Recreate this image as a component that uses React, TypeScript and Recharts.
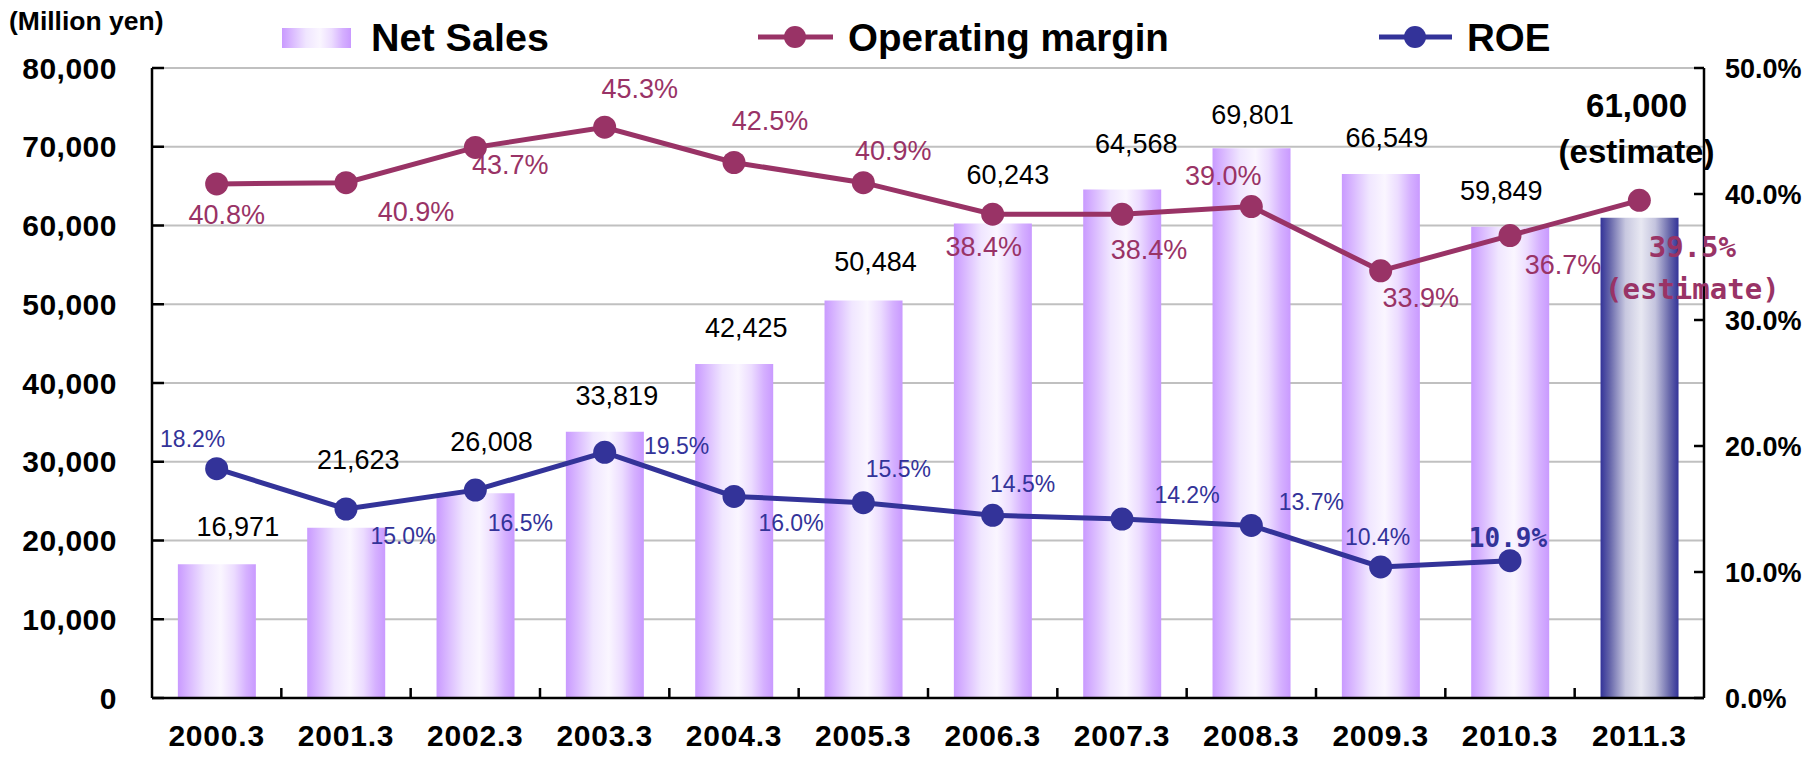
import React from 'react';
import {
  Bar,
  CartesianGrid,
  Cell,
  ComposedChart,
  LabelList,
  Line,
  XAxis,
  YAxis,
} from 'recharts';

const years = ['2000.3', '2001.3', '2002.3', '2003.3', '2004.3', '2005.3', '2006.3', '2007.3', '2008.3', '2009.3', '2010.3', '2011.3'];
const netSales = [16971, 21623, 26008, 33819, 42425, 50484, 60243, 64568, 69801, 66549, 59849, 61000];
const opMargin = [40.8, 40.9, 43.7, 45.3, 42.5, 40.9, 38.4, 38.4, 39.0, 33.9, 36.7, 39.5];
const roe = [18.2, 15.0, 16.5, 19.5, 16.0, 15.5, 14.5, 14.2, 13.7, 10.4, 10.9, null];
const salesTicks = [0, 10000, 20000, 30000, 40000, 50000, 60000, 70000, 80000];
const pctTicks = [0, 10, 20, 30, 40, 50];

const chartData = years.map((year, i) => ({
  year,
  sales: netSales[i],
  margin: opMargin[i],
  roe: roe[i],
}));

// label nudges [dx, dy] from the point (or bar top centre)
const salesNudge = [[21, -37], [12, -68], [16, -51], [12, -36], [12, -36], [12, -38], [15, -49], [14, -46], [1, -33], [6, -36], [-9, -36], [-3, -66]];
const marginNudge = [[10, 31], [70, 29], [35, 18], [35, -38], [36, -42], [30, -32], [-9, 33], [27, 36], [-28, -31], [40, 27], [53, 29], [53, 47]];
const roeNudge = [[-24, -30], [57, 27], [45, 33], [72, -6], [57, 27], [35, -34], [30, -31], [65, -24], [60, -23], [-3, -30], [-2, -23]];

const W = 1807;
const H = 757;
const PLOT_LEFT = 152;
const PLOT_RIGHT = 1704;
const BAND = (PLOT_RIGHT - PLOT_LEFT) / years.length;

const SANS = '"Liberation Sans", Arial, sans-serif';
const MONO = '"DejaVu Sans Mono", "Liberation Mono", monospace';
const MARGIN_COLOR = '#993366';
const ROE_COLOR = '#333399';

const fmtNum = (v: number) => String(v).replace(/\B(?=(\d{3})+(?!\d))/g, ',');
const last = years.length - 1;

const SalesLabel = (props: any) => {
  const { x, y, width, value, index } = props;
  const [dx, dy] = salesNudge[index];
  const cx = x + width / 2 + dx;
  if (index === last) {
    return (
      <g fontFamily={SANS} fontWeight="bold" fontSize={33} fill="#000" textAnchor="middle">
        <text x={cx} y={y - 112} dominantBaseline="central">{fmtNum(value)}</text>
        <text x={cx} y={y + dy} dominantBaseline="central">(estimate)</text>
      </g>
    );
  }
  return (
    <text x={cx} y={y + dy} textAnchor="middle" dominantBaseline="central" fontFamily={SANS} fontSize={27} fill="#000">
      {fmtNum(value)}
    </text>
  );
};

const MarginLabel = (props: any) => {
  const { x, y, value, index } = props;
  const [dx, dy] = marginNudge[index];
  if (index === last) {
    return (
      <g fontFamily={MONO} fontWeight="bold" fill={MARGIN_COLOR} textAnchor="middle">
        <text x={x + dx} y={y + dy} fontSize={29} dominantBaseline="central">{value.toFixed(1)}%</text>
        <text x={x + dx} y={y + dy + 42} fontSize={29} dominantBaseline="central">(estimate)</text>
      </g>
    );
  }
  return (
    <text x={x + dx} y={y + dy} textAnchor="middle" dominantBaseline="central" fontFamily={SANS} fontSize={27} fill={MARGIN_COLOR}>
      {value.toFixed(1)}%
    </text>
  );
};

const RoeLabel = (props: any) => {
  const { x, y, value, index } = props;
  if (value == null || index >= roeNudge.length) return null;
  const [dx, dy] = roeNudge[index];
  const bold = index === roeNudge.length - 1;
  return (
    <text
      x={x + dx}
      y={y + dy}
      textAnchor="middle"
      dominantBaseline="central"
      fontFamily={bold ? MONO : SANS}
      fontWeight={bold ? 'bold' : 'normal'}
      fontSize={bold ? 26 : 23}
      fill={ROE_COLOR}
    >
      {value.toFixed(1)}%
    </text>
  );
};

const YearTick = (props: any) => {
  const { x, y, payload, index } = props;
  return (
    <g>
      {index > 0 && <line x1={x - BAND / 2} x2={x - BAND / 2} y1={y} y2={y - 10} stroke="#000" strokeWidth={2.5} />}
      <text x={x} y={y + 37} textAnchor="middle" dominantBaseline="central" fontFamily={SANS} fontWeight="bold" fontSize={30} letterSpacing={0.8} fill="#000">
        {payload.value}
      </text>
    </g>
  );
};

// horizontal "cylinder" shading: coloured edges, pale band just right of centre
const BarGradient = ({ id, stops }: { id: string; stops: [number, string][] }) => (
  <linearGradient id={id} x1="0" y1="0" x2="1" y2="0">
    {stops.map(([o, c]) => (
      <stop key={o} offset={`${o}%`} stopColor={c} />
    ))}
  </linearGradient>
);

const salesStops: [number, string][] = [
  [0, '#c99aff'],
  [14, '#d9b8ff'],
  [35, '#f0e6ff'],
  [55, '#faf6ff'],
  [72, '#ecdcff'],
  [88, '#d5b0ff'],
  [100, '#c99aff'],
];
const estimateStops: [number, string][] = [
  [0, '#333399'],
  [12, '#6666aa'],
  [32, '#c8c8e0'],
  [52, '#e8e8f2'],
  [70, '#c4c4de'],
  [88, '#6a6aac'],
  [100, '#333399'],
];

const Legend = () => (
  <svg width={W} height={70} style={{ position: 'absolute', left: 0, top: 0, pointerEvents: 'none' }}>
    <defs>
      <BarGradient id="legendFill" stops={salesStops} />
    </defs>
    <text x={9} y={21} dominantBaseline="central" fontFamily={SANS} fontWeight="bold" fontSize={26.5} fill="#000">(Million yen)</text>
    <rect x={282} y={28} width={69} height={20} fill="url(#legendFill)" />
    <text x={371} y={37} dominantBaseline="central" fontFamily={SANS} fontWeight="bold" fontSize={39.5} fill="#000">Net Sales</text>
    <line x1={758} x2={833} y1={37} y2={37} stroke={MARGIN_COLOR} strokeWidth={5} />
    <circle cx={795} cy={37} r={11} fill={MARGIN_COLOR} />
    <text x={848} y={37} dominantBaseline="central" fontFamily={SANS} fontWeight="bold" fontSize={38.5} fill="#000">Operating margin</text>
    <line x1={1379} x2={1452} y1={37} y2={37} stroke={ROE_COLOR} strokeWidth={5} />
    <circle cx={1415} cy={37} r={11} fill={ROE_COLOR} />
    <text x={1467} y={37} dominantBaseline="central" fontFamily={SANS} fontWeight="bold" fontSize={38.5} fill="#000">ROE</text>
  </svg>
);

export default function App() {
  return (
    <div style={{ position: 'absolute', left: 0, top: 0, width: W, height: H, background: '#fff' }}>
      <ComposedChart width={W} height={H} data={chartData} margin={{ top: 68, right: 0, bottom: 0, left: 0 }} barCategoryGap="20%">
        <defs>
          <BarGradient id="salesFill" stops={salesStops} />
          <BarGradient id="estimateFill" stops={estimateStops} />
        </defs>
        <CartesianGrid vertical={false} stroke="#c0c0c0" strokeWidth={2} />
        <XAxis
          dataKey="year"
          height={59}
          axisLine={{ stroke: '#000', strokeWidth: 2.5 }}
          tickLine={false}
          tickSize={0}
          tickMargin={0}
          tick={<YearTick />}
          interval={0}
        />
        <YAxis
          width={PLOT_LEFT}
          domain={[0, 80000]}
          ticks={salesTicks}
          interval={0}
          tickFormatter={(v: number) => fmtNum(v)}
          axisLine={{ stroke: '#000', strokeWidth: 2.5 }}
          tickLine={{ stroke: '#000', strokeWidth: 2.5 }}
          tickSize={-12}
          tickMargin={47}
          tick={{ fill: '#000', fontSize: 30, fontWeight: 'bold', fontFamily: SANS, letterSpacing: 0.5 }}
        />
        <YAxis
          yAxisId="right"
          orientation="right"
          width={W - PLOT_RIGHT}
          domain={[0, 50]}
          ticks={pctTicks}
          interval={0}
          tickFormatter={(v: number) => `${v.toFixed(1)}%`}
          axisLine={{ stroke: '#000', strokeWidth: 2.5 }}
          tickLine={{ stroke: '#000', strokeWidth: 2.5 }}
          tickSize={-10}
          tickMargin={31}
          tick={{ fill: '#000', fontSize: 27, fontWeight: 'bold', fontFamily: SANS }}
        />
        <Bar dataKey="sales" isAnimationActive={false} fill="url(#salesFill)">
          {chartData.map((d, i) => (
            <Cell key={d.year} fill={i === last ? 'url(#estimateFill)' : 'url(#salesFill)'} />
          ))}
          <LabelList dataKey="sales" content={<SalesLabel />} />
        </Bar>
        <Line
          yAxisId="right"
          dataKey="margin"
          stroke={MARGIN_COLOR}
          strokeWidth={5}
          dot={{ r: 11.5, fill: MARGIN_COLOR, stroke: MARGIN_COLOR, strokeWidth: 0 }}
          activeDot={false}
          isAnimationActive={false}
        >
          <LabelList dataKey="margin" content={<MarginLabel />} />
        </Line>
        <Line
          yAxisId="right"
          dataKey="roe"
          stroke={ROE_COLOR}
          strokeWidth={5}
          dot={{ r: 11.5, fill: ROE_COLOR, stroke: ROE_COLOR, strokeWidth: 0 }}
          activeDot={false}
          isAnimationActive={false}
        >
          <LabelList dataKey="roe" content={<RoeLabel />} />
        </Line>
      </ComposedChart>
      <Legend />
    </div>
  );
}
